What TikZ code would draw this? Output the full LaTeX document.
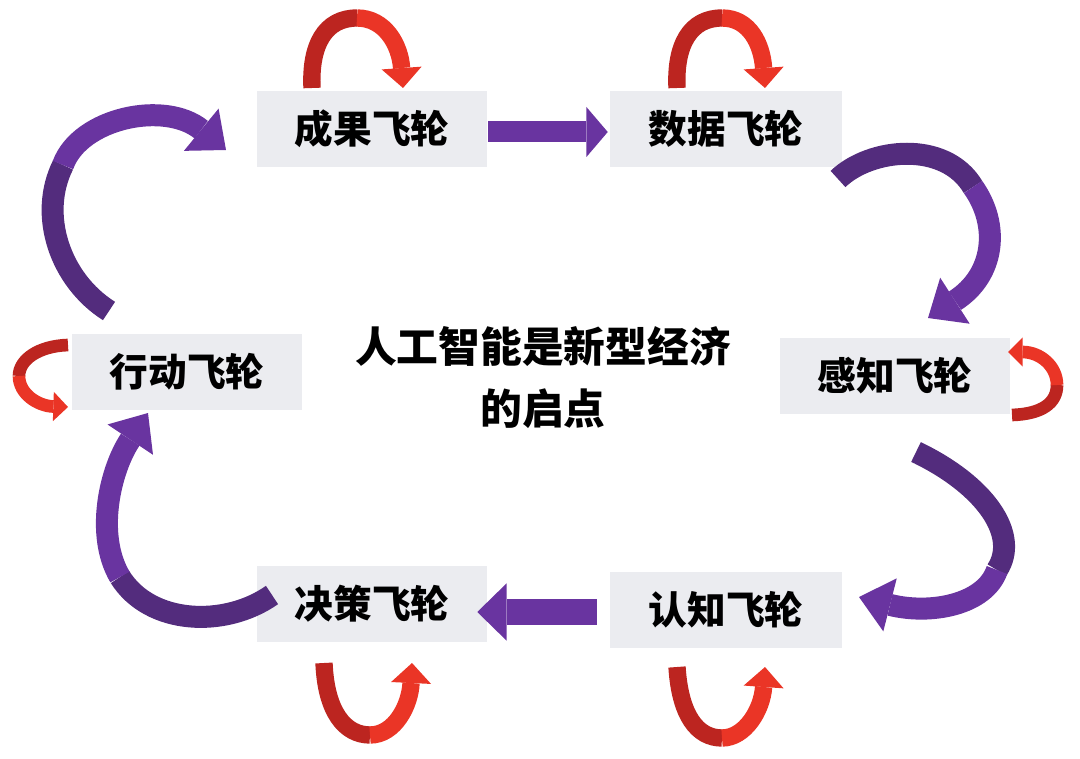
\documentclass[tikz,border=0pt]{standalone}
\usepackage{fontspec}
\newfontfamily\cjk{Noto Sans CJK SC Black}
\usetikzlibrary{arrows.meta,calc}
\definecolor{boxgray}{HTML}{EBECF0}
\definecolor{pdark}{HTML}{532C7D}
\definecolor{plight}{HTML}{6934A0}
\definecolor{rdark}{HTML}{BC2520}
\definecolor{rlight}{HTML}{EA3526}
\tikzset{
  box/.style={fill=boxgray, minimum width=172.5pt, minimum height=57pt, inner sep=0pt,
    font=\cjk\fontsize{29pt}{29pt}\selectfont},
  ctext/.style={align=center, inner sep=0pt, font=\cjk\fontsize{31.3pt}{46.5pt}\selectfont},
  bigdark/.style={draw=pdark, line width=16.5pt},
  biglight/.style={draw=plight, line width=16.5pt,
    -{Triangle[length=24pt, width=41pt, line width=0pt]}},
  loopdark/.style={draw=rdark, line width=13pt},
  looplight/.style={draw=rlight, line width=13pt,
    -{Triangle[length=15pt, width=30pt, line width=0pt]}},
  sidedark/.style={draw=rdark, line width=9.5pt},
  sidelight/.style={draw=rlight, line width=9.5pt,
    -{Triangle[length=11pt, width=22pt, line width=0pt]}},
}
\begin{document}
\begin{tikzpicture}[x=0.75pt,y=-0.75pt]
\useasboundingbox (0,0) rectangle (1080,759);
% boxes
\node[box] (cg) at (372,129) {成果飞轮};
\node[box, minimum width=174pt] (sj) at (726,129) {数据飞轮};
\node[box] (gz) at (895,376) {感知飞轮};
\node[box, minimum width=174pt] (rz) at (726,610) {认知飞轮};
\node[box] (jc) at (372,604) {决策飞轮};
\node[box] (xd) at (187,372) {行动飞轮};
\node[ctext] (ct) at (543,378) {人工智能是新型经济\\的启点};

% coordinates for curved arrows
\coordinate (tlA) at (109,311); \coordinate (tlF) at (63,165); \coordinate (tlB) at (226,150);
\coordinate (trA) at (838,179); \coordinate (trF) at (973,187); \coordinate (trB) at (928,318);
\coordinate (brA) at (916,452); \coordinate (brF) at (997,570); \coordinate (brB) at (859,597);
\coordinate (blA) at (272,595); \coordinate (blF) at (120,577); \coordinate (blB) at (148,413);

% straight arrows
\draw[draw=plight, line width=15.75pt, -{Triangle[length=16pt, width=37.5pt, line width=0pt]}]
  ($(cg.east)+(1,3)$) -- ($(sj.west)+(-2,3)$);
\draw[draw=plight, line width=19.5pt, -{Triangle[length=22pt, width=43pt, line width=0pt]}]
  ($(rz.west)+(-13,2)$) -- ($(jc.east)+(-10,8)$);

% big curved arrows
\draw[bigdark] (tlA) .. controls (60,280) and (38,215) .. (tlF);
\draw[biglight] (tlF) .. controls (80,118) and (165,100) .. (tlB);

\draw[bigdark] (trA) .. controls (870,148) and (945,140) .. (trF);
\draw[biglight] (trF) .. controls (1000,225) and (995,275) .. (trB);

\draw[bigdark] (brA) .. controls (985,485) and (1020,535) .. (brF);
\draw[biglight] (brF) .. controls (985,605) and (930,615) .. (brB);

\draw[bigdark] (blA) .. controls (225,628) and (150,625) .. (blF);
\draw[biglight] (blF) .. controls (95,535) and (110,470) .. (blB);

% red loops top
\coordinate (l1A) at (312,88); \coordinate (l1F) at (357,18); \coordinate (l1B) at (403,88);
\draw[loopdark] (l1A) .. controls (310,45) and (325,18) .. (l1F);
\draw[looplight] (l1F) .. controls (385,18) and (400,45) .. (l1B);

\coordinate (l2A) at (677,88); \coordinate (l2F) at (722,18); \coordinate (l2B) at (765,88);
\draw[loopdark] (l2A) .. controls (675,45) and (690,18) .. (l2F);
\draw[looplight] (l2F) .. controls (750,18) and (762,45) .. (l2B);

% red loops bottom
\coordinate (l3A) at (677,667); \coordinate (l3F) at (722,738); \coordinate (l3B) at (765,667);
\draw[loopdark] (l3A) .. controls (680,715) and (697,738) .. (l3F);
\draw[looplight] (l3F) .. controls (745,738) and (762,710) .. (l3B);

\coordinate (l4A) at (324,663); \coordinate (l4F) at (370,735); \coordinate (l4B) at (412,663);
\draw[loopdark] (l4A) .. controls (326,712) and (345,735) .. (l4F);
\draw[looplight] (l4F) .. controls (395,735) and (410,705) .. (l4B);

% red side loops
\coordinate (s1A) at (1012,415); \coordinate (s1F) at (1057,385); \coordinate (s1B) at (1008,352);
\draw[sidedark] (s1A) .. controls (1042,414) and (1057,403) .. (s1F);
\draw[sidelight] (s1F) .. controls (1057,366) and (1040,352) .. (s1B);

\coordinate (s2A) at (68,345); \coordinate (s2F) at (19,376); \coordinate (s2B) at (68,407);
\draw[sidedark] (s2A) .. controls (38,346) and (19,360) .. (s2F);
\draw[sidelight] (s2F) .. controls (19,394) and (38,406) .. (s2B);
\end{tikzpicture}
\end{document}
